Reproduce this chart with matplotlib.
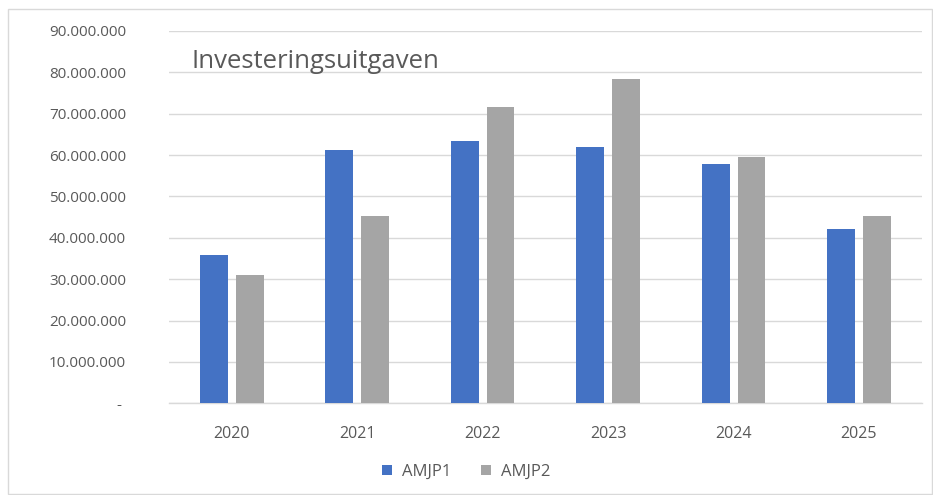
import matplotlib
matplotlib.use("Agg")
import matplotlib.pyplot as plt
import numpy as np
from matplotlib.ticker import FuncFormatter, MultipleLocator
from matplotlib.patches import Rectangle

years = ["2020", "2021", "2022", "2023", "2024", "2025"]
amjp1 = [35_900_000, 61_200_000, 63_300_000, 61_900_000, 57_800_000, 42_200_000]
amjp2 = [30_900_000, 45_300_000, 71_700_000, 78_300_000, 59_600_000, 45_300_000]
series_names = ["AMJP1", "AMJP2"]
title = "Investeringsuitgaven"

plt.rcParams['font.family'] = ['Open Sans', 'DejaVu Sans']
text_col = "#595959"
grid_col = "#d9d9d9"

fig = plt.figure(figsize=(9.33, 4.95), dpi=100)
fig.patch.set_facecolor("white")
# outer chart border
fig.patches.append(Rectangle((8/933, 1/495), (932-8)/933, (485)/495, transform=fig.transFigure,
                             fill=False, edgecolor="#d9d9d9", linewidth=1))

ax = fig.add_axes([169/933, 1-403.3/495, (921.7-169)/933, (403.3-31)/495])
x = np.arange(len(years))
w = 0.222
off = 0.143
ax.bar(x - off, amjp1, width=w, color="#4472C4", label=series_names[0], zorder=3)
ax.bar(x + off, amjp2, width=w, color="#A5A5A5", label=series_names[1], zorder=3)

ax.set_xlim(-0.5, len(years) - 0.5)
ax.set_ylim(0, 90_000_000)
ax.yaxis.set_major_locator(MultipleLocator(10_000_000))

def fmt(v, pos):
    if abs(v) < 1:
        return "- "
    return f"{int(round(v)):,}".replace(",", ".")
ax.yaxis.set_major_formatter(FuncFormatter(fmt))
ax.set_xticks(x)
ax.set_xticklabels(years)

ax.grid(axis="y", color=grid_col, linewidth=1, zorder=0)
for s in ["top", "right", "left"]:
    ax.spines[s].set_visible(False)
ax.spines["bottom"].set_color(grid_col)
ax.spines["bottom"].set_linewidth(1)
ax.tick_params(axis="both", length=0, colors=text_col)
ax.tick_params(axis="y", pad=31, labelsize=11)
ax.tick_params(axis="x", pad=16, labelsize=11.5)

fig.text(191/933, 1-61/495, title, fontsize=18.5, color=text_col, va="center", ha="left")

fig.legend(loc="center", bbox_to_anchor=(0.5, 1-472/495), ncol=2, frameon=False,
           handlelength=0.6, handleheight=0.6, fontsize=12, labelcolor=text_col,
           columnspacing=1.8, handletextpad=0.6)

fig.savefig("out.png", dpi=100, facecolor="white")
